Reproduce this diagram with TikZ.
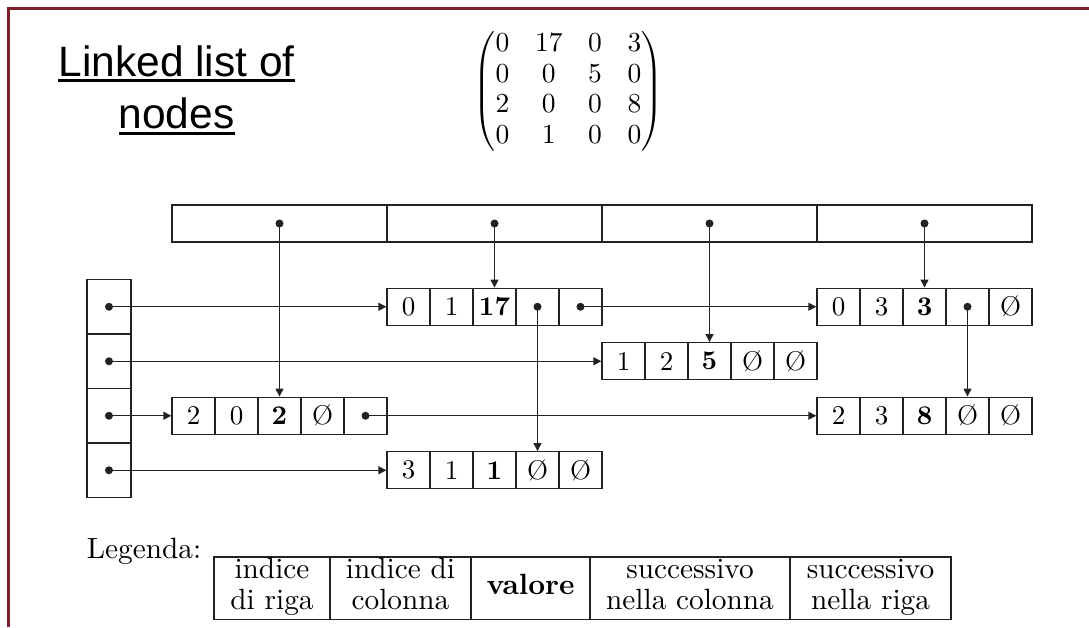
\documentclass[tikz,border=0pt]{standalone}
\usepackage{amsmath}
\usepackage{fontspec}
\setmainfont{lmroman10-regular.otf}[BoldFont=lmroman10-bold.otf]
\newfontfamily\arialfont{Liberation Sans}
\usetikzlibrary{arrows.meta}
\definecolor{frame}{HTML}{7E1F2C}
\definecolor{ink}{HTML}{222222}

% one node of the list: five cells (row, column, value, next in column, next in row)
\newcommand\linkrec[8]{%
  \node[cell] (#1-1) at (#2+21.5,#3) {#4};
  \node[cell] (#1-2) at (#2+64.5,#3) {#5};
  \node[cell] (#1-3) at (#2+107.5,#3) {\textbf{#6}};
  \node[cell] (#1-4) at (#2+150.5,#3) {#7};
  \node[cell] (#1-5) at (#2+193.5,#3) {#8};
}
% matrix entry set in the text font at the current size
\newcommand\ent[1]{\mbox{#1}}

\begin{document}
\begin{tikzpicture}[x=1pt,y=-1pt,
  cell/.style={draw=ink, line width=1.4pt, minimum width=43pt, minimum height=37pt,
    inner sep=0pt, font=\fontsize{27}{32}\selectfont},
  slot/.style={draw=ink, line width=1.4pt, inner sep=0pt},
  ptr/.style={draw=ink, line width=1.4pt, -{Triangle[length=8pt,width=8pt]}},
  legcell/.style={draw=ink, line width=1.4pt, inner sep=0pt, minimum height=62.5pt,
    align=center, font=\fontsize{29.3}{31}\selectfont},
  title/.style={inner sep=0pt, anchor=base, font=\arialfont\fontsize{42.5}{50}\selectfont},
]
\useasboundingbox (0,0) rectangle (1089,627);

% frame
\draw[frame, line width=3.5pt] (8.5,627) -- (8.5,8.5) -- (1089,8.5);

% title
\node[title] (t1) at (176.6,76) {Linked list of};
\node[title] (t2) at (176.6,128.5) {nodes};
\draw[line width=2.6pt] ([yshift=-4.3pt]t1.base west) -- ([yshift=-4.3pt]t1.base east);
\draw[line width=2.6pt] ([yshift=-4.8pt]t2.base west) -- ([yshift=-4.8pt]t2.base east);

% matrix
\node[inner sep=0pt] (mat) at (568.5,91.5) {\fontsize{27.5}{30.6}\selectfont
  \setlength\arraycolsep{12.8pt}%
  $\begin{pmatrix}
    \ent{0}&\ent{17}&\ent{0}&\ent{3}\\
    \ent{0}&\ent{0}&\ent{5}&\ent{0}\\
    \ent{2}&\ent{0}&\ent{0}&\ent{8}\\
    \ent{0}&\ent{1}&\ent{0}&\ent{0}
  \end{pmatrix}$};

% column heads
\foreach \j in {0,1,2,3}
  \node[slot, minimum width=215pt, minimum height=37pt] (ta-\j) at (279.5+215*\j,223.5) {};

% row heads
\foreach \i/\y in {0/306.75,1/361.25,2/415.75,3/470.25}
  \node[slot, minimum width=44pt, minimum height=54.5pt] (lc-\i) at (109,\y) {};

% list nodes
\linkrec{r01}{387}{306.75}{0}{1}{17}{}{}
\linkrec{r03}{817}{306.75}{0}{3}{3}{}{\O}
\linkrec{r12}{602}{361.25}{1}{2}{5}{\O}{\O}
\linkrec{r20}{172}{415.75}{2}{0}{2}{\O}{}
\linkrec{r23}{817}{415.75}{2}{3}{8}{\O}{\O}
\linkrec{r31}{387}{470.25}{3}{1}{1}{\O}{\O}

% row pointers
\draw[ptr] (lc-0.center) -- (r01-1.west);
\draw[ptr] (lc-1.center) -- (r12-1.west);
\draw[ptr] (lc-2.center) -- (r20-1.west);
\draw[ptr] (lc-3.center) -- (r31-1.west);
\draw[ptr] (r01-5.center) -- (r03-1.west);
\draw[ptr] (r20-5.center) -- (r23-1.west);

% column pointers
\draw[ptr] (ta-0.center) -- (r20-3.north);
\draw[ptr] (ta-1.center) -- (r01-3.north);
\draw[ptr] (ta-2.center) -- (r12-3.north);
\draw[ptr] (ta-3.center) -- (r03-3.north);
\draw[ptr] (r01-4.center) -- (r31-4.north);
\draw[ptr] (r03-4.center) -- (r23-4.north);

% pointer origins
\foreach \p in {lc-0,lc-1,lc-2,lc-3,ta-0,ta-1,ta-2,ta-3,r01-4,r01-5,r03-4,r20-5}
  \fill[ink] (\p.center) circle[radius=4pt];

% legend
\node[inner sep=0pt, anchor=base west, font=\fontsize{29.3}{31}\selectfont] (leg) at (86.7,558) {Legenda:};
\node[legcell, minimum width=116pt] (lg-1) at (272,588.25) {\strut indice\\\strut di riga};
\node[legcell, minimum width=141pt] (lg-2) at (400.5,588.25) {\strut indice di\\\strut colonna};
\node[legcell, minimum width=119pt] (lg-3) at (530.5,588.25) {\strut\textbf{valore}};
\node[legcell, minimum width=200pt] (lg-4) at (690,588.25) {\strut successivo\\\strut nella colonna};
\node[legcell, minimum width=161pt] (lg-5) at (870.5,588.25) {\strut successivo\\\strut nella riga};
\end{tikzpicture}
\end{document}
